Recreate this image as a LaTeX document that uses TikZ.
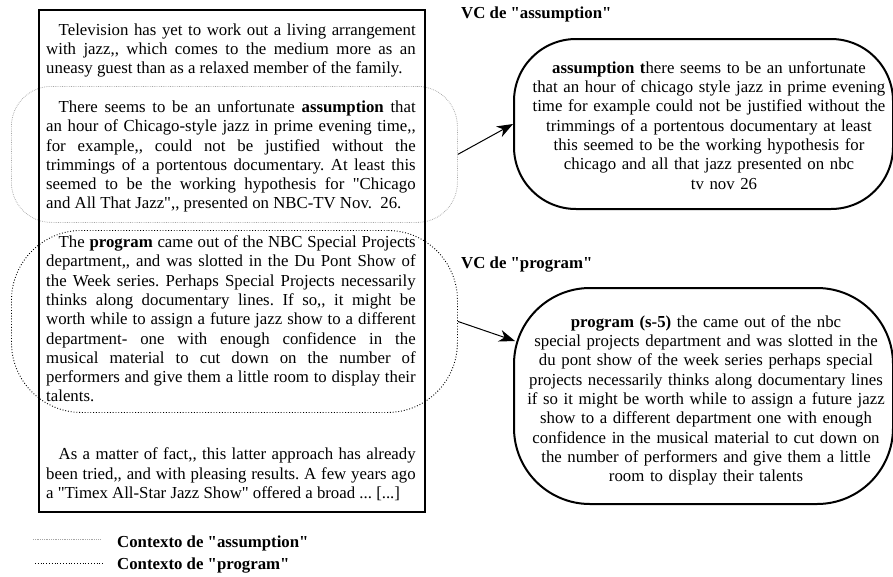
\documentclass[tikz,border=0pt]{standalone}
\usepackage{fontspec}
\setmainfont{Liberation Serif}[Ligatures=TeXOff]
\usetikzlibrary{arrows.meta,calc}
\newcommand\mysz{\fontsize{16.8pt}{19.3pt}\selectfont\frenchspacing}
\newcommand\paraind{\hspace*{12.5pt}}
\tikzset{
  mainbox/.style={draw=black, line width=2.3pt, inner sep=0pt, minimum width=386pt, minimum height=502pt, anchor=north west},
  ctxa/.style={draw=black!35, line width=0.8pt, dash pattern=on 0.7pt off 1.1pt, rounded corners=40pt, inner sep=0pt, minimum width=446pt, minimum height=136pt, anchor=north west},
  ctxp/.style={draw=black, line width=0.9pt, dash pattern=on 0.9pt off 1.9pt, rounded corners=70pt, inner sep=0pt, minimum width=446pt, minimum height=182pt, anchor=north west},
  bubble/.style={draw=black, line width=2pt, inner sep=0pt, minimum width=379pt, anchor=north west},
  bodytext/.style={text width=369.5pt, inner sep=0pt, anchor=north west, align=justify,
     font={\mysz\tolerance=10000\hyphenpenalty=10000\exhyphenpenalty=10000\parindent=0pt}},
  bubtext/.style={text width=378pt, inner sep=0pt, anchor=north, align=center, font=\mysz},
  label/.style={inner sep=0pt, anchor=base west, font=\mysz\bfseries},
  arr/.style={line width=1pt, -{Stealth[length=16pt,width=12pt,inset=5pt]}},
}
\begin{document}
\begin{tikzpicture}[x=1pt,y=-1pt]
\useasboundingbox (0,0) rectangle (893,576);
% context shapes
\node[ctxa] (ctxA) at (11,86) {};
\node[ctxp] (ctxP) at (11,230) {};
% main text box
\node[mainbox] (box) at (38,9) {};
\node[bodytext] (body) at (46,21) {\rule{0pt}{14pt}\paraind Television has yet to work out a living arrangement\linebreak
with jazz,, which comes to the medium more as an\linebreak
uneasy guest than as a relaxed member of the family.\par
\vspace{19.3pt}
\paraind There seems to be an unfortunate \textbf{assumption} that\linebreak
an hour of Chicago-style jazz in prime evening time,,\linebreak
for example,, could not be justified without the\linebreak
trimmings of a portentous documentary. At least this\linebreak
seemed to be the working hypothesis for "Chicago\linebreak
and All That Jazz",, presented on NBC-TV Nov.\ \ 26.\par
\vspace{19.3pt}
\paraind The \textbf{program} came out of the NBC Special Projects\linebreak
department,, and was slotted in the Du Pont Show of\linebreak
the Week series. Perhaps Special Projects necessarily\linebreak
thinks along documentary lines. If so,, it might be\linebreak
worth while to assign a future jazz show to a different\linebreak
department- one with enough confidence in the\linebreak
musical material to cut down on the number of\linebreak
performers and give them a little room to display their\linebreak
talents.\par
\vspace{38.6pt}
\paraind As a matter of fact,, this latter approach has already\linebreak
been tried,, and with pleasing results. A few years ago\linebreak
a "Timex All-Star Jazz Show" offered a broad ... [...]\par};
% right side
\node[label] (vcA) at (461,18) {VC de "assumption"};
\node[bubble, minimum height=170pt, rounded corners=62pt] (bubA) at (513,38) {};
\node[bubtext] (txtA) at (709,59) {\rule{0pt}{14pt}\textbf{assumption t}here seems to be an unfortunate\\
that an hour of chicago style jazz in prime evening\\
time for example could not be justified without the\\
trimmings of a portentous documentary at least\\
this seemed to be the working hypothesis for\\
chicago and all that jazz presented on nbc\\
\hspace*{30pt}tv nov 26};
\node[label] (vcB) at (461,268) {VC de "program"};
\node[bubble, minimum height=216pt, rounded corners=76pt] (bubB) at (513,287) {};
\node[bubtext] (txtB) at (706,313) {\rule{0pt}{14pt}\textbf{program (s-5)} the came out of the nbc\\
special projects department and was slotted in the\\
du pont show of the week series perhaps special\\
projects necessarily thinks along documentary lines\\
if so it might be worth while to assign a future jazz\\
show to a different department one with enough\\
confidence in the musical material to cut down on\\
the number of performers and give them a little\\
room to display their talents};
% connectors
\coordinate (endB) at ($(bubB.north west)+(2,54)$);
\draw[arr] (ctxA.east) -- (bubA.west);
\draw[arr] (ctxP.east) -- (endB);
% legend
\node[label] (legA) at (117,547) {Contexto de "assumption"};
\node[label] (legB) at (117,569) {Contexto de "program"};
\draw[draw=black!35, line width=0.8pt, dash pattern=on 0.7pt off 1.1pt] (33,539.5) -- (100,539.5);
\draw[draw=black, line width=0.9pt, dash pattern=on 0.9pt off 1.9pt] (35,563) -- (103,563);
\end{tikzpicture}
\end{document}
